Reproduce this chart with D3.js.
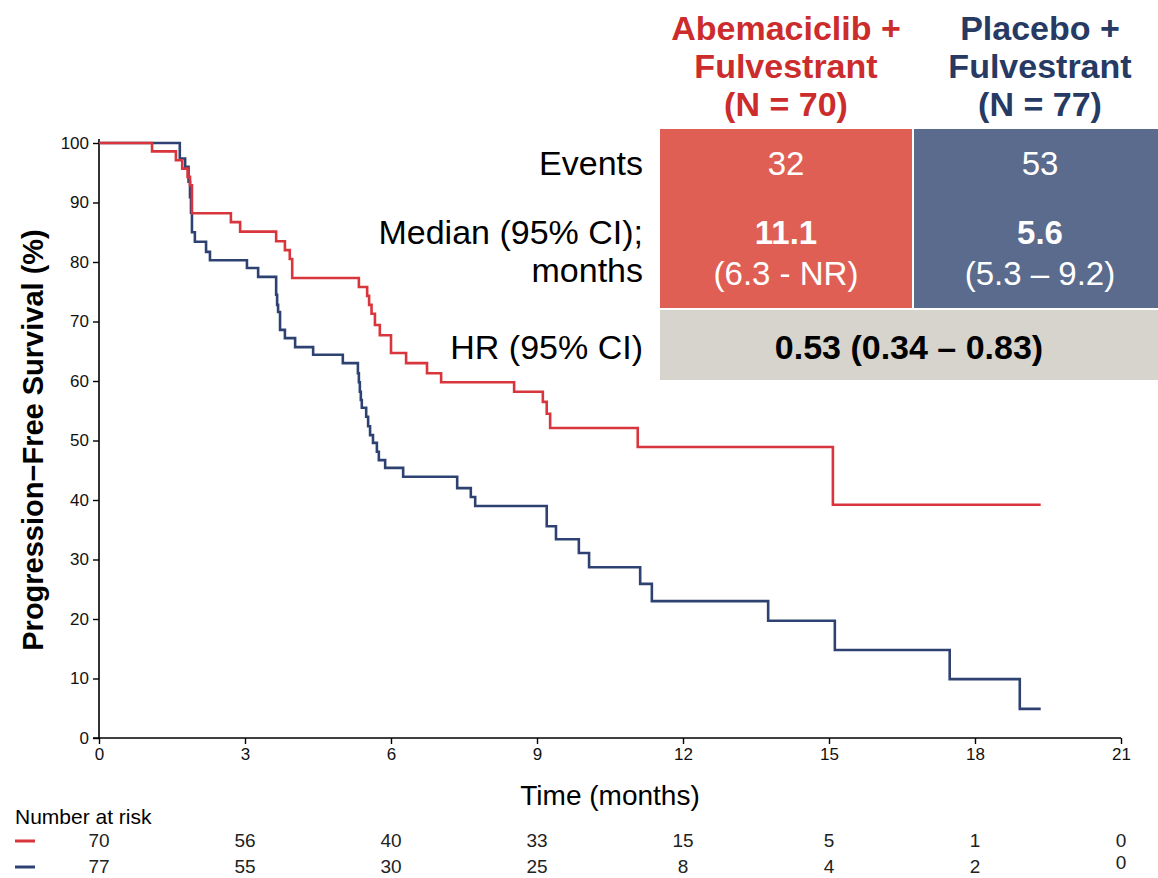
<!DOCTYPE html>
<html><head><meta charset="utf-8">
<script src="https://cdn.jsdelivr.net/npm/d3@7"></script>
<style>
body{margin:0;background:#fff;}
text{font-family:"Liberation Sans",Arial,sans-serif;}
</style></head>
<body>
<svg id="chart" width="1158" height="878"></svg>
<script>
// ---- data ----
const abemaTimes = [0,1.09,1.58,1.71,1.82,1.87,1.91,2.71,2.90,3.64,3.82,3.92,3.97,5.34,5.51,5.55,5.60,5.67,5.77,6.00,6.31,6.74,7.03,8.53,9.12,9.20,9.27,11.07,15.08,19.35];
const abemaSurv  = [100,98.6,97.1,95.7,94.3,92.9,88.2,86.7,85.1,83.5,82.0,80.5,77.3,75.8,74.3,72.8,71.3,69.4,67.7,64.7,63.0,61.3,59.8,58.2,56.5,54.5,52.1,48.9,39.2,39.2];
const placTimes  = [0,1.66,1.77,1.84,1.87,1.89,1.91,1.97,2.20,2.28,3.04,3.27,3.64,3.66,3.68,3.72,3.82,4.03,4.40,5.01,5.32,5.34,5.36,5.38,5.40,5.49,5.53,5.57,5.63,5.71,5.75,5.88,6.25,7.36,7.64,7.73,9.20,9.39,9.86,10.07,11.12,11.36,13.75,15.12,17.48,18.92,19.35];
const placSurv   = [100,97.4,96.0,93.5,90.9,88.3,85.0,83.4,81.7,80.3,79.0,77.5,74.5,72.8,71.6,68.6,67.2,65.7,64.4,63.0,61.3,59.8,58.2,56.8,55.5,54.0,52.4,50.9,49.6,48.1,46.7,45.4,43.9,42.0,40.5,39.0,35.6,33.4,31.1,28.7,25.9,23.0,19.7,14.8,9.9,4.9,4.9];
const xTicks = [0,3,6,9,12,15,18,21];
const yTicks = [0,10,20,30,40,50,60,70,80,90,100];
const riskTimes = [0,3,6,9,12,15,18,21];
const riskAbema = [70,56,40,33,15,5,1,0];
const riskPlac  = [77,55,30,25,8,4,2,0];
const armHeaders = [["Abemaciclib +","Fulvestrant","(N = 70)"],["Placebo +","Fulvestrant","(N = 77)"]];
const events = ["32","53"];
const medians = ["11.1","5.6"];
const medianCI = ["(6.3 - NR)","(5.3 – 9.2)"];
const hrText = "0.53 (0.34 – 0.83)";

// ---- layout ----
const svg = d3.select("#chart");
const RED="#d8353c", BLUE="#2e4272";
const x = d3.scaleLinear().domain([0,21]).range([99,1121]);
const y = d3.scaleLinear().domain([0,100]).range([738,143]);

// axes
const yAxis = svg.append("g").attr("transform","translate(99,0)")
  .call(d3.axisLeft(y).tickValues(yTicks).tickSize(6).tickPadding(4));
const xAxis = svg.append("g").attr("transform","translate(0,738)")
  .call(d3.axisBottom(x).tickValues(xTicks).tickSize(6).tickPadding(4));
[yAxis,xAxis].forEach(a=>{
  a.select(".domain").attr("stroke","#000").attr("stroke-width",1.6);
  a.selectAll(".tick line").attr("stroke","#000").attr("stroke-width",1.4);
  a.selectAll(".tick text").attr("font-size",17).attr("fill","#111")
   .attr("font-family","'Liberation Sans',Arial,sans-serif");
});
yAxis.select(".domain").attr("d","M-6,"+y(0)+"H0V"+(y(100)-4));
xAxis.select(".domain").attr("d","M"+x(0)+",0H"+x(21));

svg.append("text").attr("transform","translate(43,440) rotate(-90)")
  .attr("text-anchor","middle").attr("font-size",29).attr("font-weight","bold")
  .text("Progression−Free Survival (%)");
svg.append("text").attr("x",610).attr("y",805).attr("text-anchor","middle")
  .attr("font-size",28).text("Time (months)");

// curves
const line = d3.line().x(d=>x(d[0])).y(d=>y(d[1])).curve(d3.curveStepAfter);
svg.append("path").datum(placTimes.map((t,i)=>[t,placSurv[i]]))
  .attr("d",line).attr("fill","none").attr("stroke",BLUE).attr("stroke-width",2.6);
svg.append("path").datum(abemaTimes.map((t,i)=>[t,abemaSurv[i]]))
  .attr("d",line).attr("fill","none").attr("stroke",RED).attr("stroke-width",2.6);

// summary table
const tbl = svg.append("g");
const colC=[786,1040];
tbl.append("rect").attr("x",660).attr("y",129).attr("width",252).attr("height",179).attr("fill","#e05f55");
tbl.append("rect").attr("x",914).attr("y",129).attr("width",244).attr("height",179).attr("fill","#5a6b8d");
tbl.append("rect").attr("x",660).attr("y",310).attr("width",498).attr("height",70).attr("fill","#d6d4cc");
const hdrCol = ["#cc2c2c","#263a64"];
armHeaders.forEach((lines,i)=>{
  lines.forEach((s,j)=>{
    tbl.append("text").attr("x",colC[i]).attr("y",40+j*38).attr("text-anchor","middle")
      .attr("font-size",34).attr("font-weight","bold").attr("fill",hdrCol[i]).text(s);
  });
  tbl.append("text").attr("x",colC[i]).attr("y",175).attr("text-anchor","middle")
    .attr("font-size",33).attr("fill","#fff").text(events[i]);
  tbl.append("text").attr("x",colC[i]).attr("y",244).attr("text-anchor","middle")
    .attr("font-size",33).attr("font-weight","bold").attr("fill","#fff").text(medians[i]);
  tbl.append("text").attr("x",colC[i]).attr("y",285).attr("text-anchor","middle")
    .attr("font-size",33).attr("fill","#fff").text(medianCI[i]);
});
tbl.append("text").attr("x",909).attr("y",359).attr("text-anchor","middle")
  .attr("font-size",34).attr("font-weight","bold").attr("fill","#000").text(hrText);
const rowLabels = [["Events",175],["Median (95% CI);",244],["months",282],["HR (95% CI)",359]];
rowLabels.forEach(([s,yy])=>{
  tbl.append("text").attr("x",643).attr("y",yy).attr("text-anchor","end")
    .attr("font-size",34).attr("fill","#000").text(s);
});

// number at risk
svg.append("text").attr("x",15).attr("y",824).attr("font-size",21).text("Number at risk");
[[riskAbema,RED,847],[riskPlac,BLUE,873]].forEach(([vals,col,yy])=>{
  svg.append("line").attr("x1",15).attr("x2",35).attr("y1",yy-6).attr("y2",yy-6)
    .attr("stroke",col).attr("stroke-width",3);
  svg.selectAll(null).data(riskTimes).enter().append("text")
    .attr("x",d=>x(d)).attr("y",(d,i)=> (i===riskTimes.length-1 && col===BLUE) ? yy-4 : yy)
    .attr("text-anchor","middle").attr("font-size",19).attr("fill","#222")
    .text((d,i)=>vals[i]);
});
</script>
</body></html>
